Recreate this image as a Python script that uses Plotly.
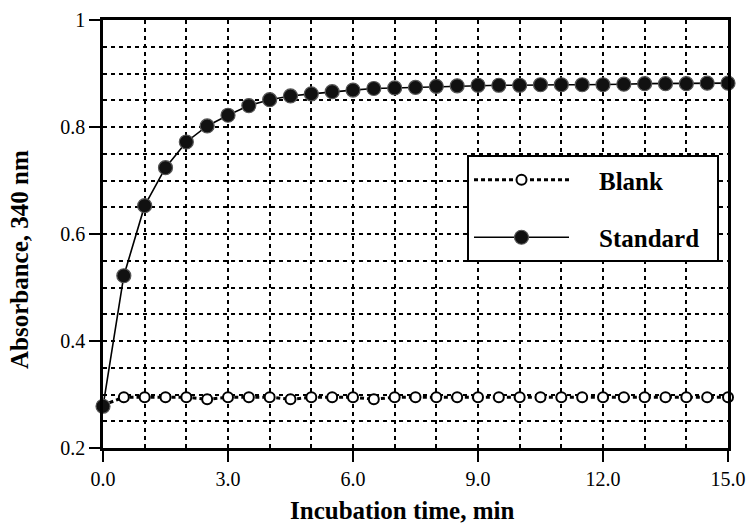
import plotly.graph_objects as go

time_min = [0.0, 0.5, 1.0, 1.5, 2.0, 2.5, 3.0, 3.5, 4.0, 4.5, 5.0, 5.5, 6.0, 6.5, 7.0, 7.5,
            8.0, 8.5, 9.0, 9.5, 10.0, 10.5, 11.0, 11.5, 12.0, 12.5, 13.0, 13.5, 14.0, 14.5, 15.0]
standard = [0.278, 0.522, 0.653, 0.724, 0.772, 0.802, 0.822, 0.840, 0.851, 0.858, 0.862, 0.866,
            0.869, 0.872, 0.873, 0.874, 0.876, 0.877, 0.878, 0.878, 0.878, 0.879, 0.879, 0.879,
            0.879, 0.880, 0.881, 0.881, 0.881, 0.882, 0.882]
blank = [0.280, 0.295, 0.295, 0.295, 0.295, 0.291, 0.295, 0.295, 0.295, 0.291, 0.295, 0.295,
         0.295, 0.291, 0.295, 0.295, 0.295, 0.295, 0.295, 0.295, 0.295, 0.295, 0.295, 0.295,
         0.295, 0.295, 0.295, 0.295, 0.295, 0.295, 0.295]
x_ticks = [0, 3, 6, 9, 12, 15]
x_tick_labels = ["0.0", "3.0", "6.0", "9.0", "12.0", "15.0"]
y_ticks = [0.2, 0.4, 0.6, 0.8, 1.0]
y_tick_labels = ["0.2", "0.4", "0.6", "0.8", "1"]

NB = "\u00a0"
fig = go.Figure()
fig.add_trace(go.Scatter(
    x=time_min, y=blank, name=NB * 4 + "Blank", mode="lines+markers", legendgroup="a",
    line=dict(color="black", width=3, dash="4px,3px"),
    marker=dict(symbol="circle", size=10, color="white", line=dict(color="black", width=2)),
))
fig.add_trace(go.Scatter(
    x=time_min, y=standard, name=NB * 4 + "Standard" + NB * 2, mode="lines+markers", legendgroup="b",
    line=dict(color="black", width=1.6),
    marker=dict(symbol="circle", size=14, color="#111111", line=dict(color="#555555", width=1.2)),
))

serif = "Liberation Serif"
grid = dict(showgrid=True, gridcolor="black", gridwidth=1.5, griddash="4px,4px")
fig.update_layout(
    width=749, height=524,
    margin=dict(l=103, r=21, t=20, b=76),
    plot_bgcolor="white", paper_bgcolor="white",
    font=dict(family=serif, color="black", size=20),
    showlegend=True,
    legend=dict(
        x=(467 - 103) / 625, y=(448 - 155) / 428, xanchor="left", yanchor="top",
        bgcolor="white", bordercolor="black", borderwidth=2,
        font=dict(family=serif, size=25, color="black", weight="bold"),
        itemwidth=95, tracegroupgap=22, traceorder="grouped",
    ),
    xaxis=dict(
        range=[0, 15], tickvals=x_ticks, ticktext=x_tick_labels,
        showline=True, linecolor="black", linewidth=2.5, mirror=True,
        ticks="outside", ticklen=11, tickwidth=2, tickcolor="black",
        **grid,
        minor=dict(dtick=1, **grid),
        zeroline=False, automargin=False,
        tickfont=dict(family=serif, size=20),
    ),
    yaxis=dict(
        range=[0.2, 1.0], tickvals=y_ticks, ticktext=y_tick_labels,
        showline=True, linecolor="black", linewidth=2.5, mirror=True,
        ticks="outside", ticklen=11, tickwidth=2, tickcolor="black",
        **grid,
        minor=dict(dtick=0.05, tick0=0.2, **grid),
        zeroline=False, automargin=False,
        tickfont=dict(family=serif, size=20),
    ),
    annotations=[
        dict(text="<b>Incubation time, min</b>", xref="paper", yref="paper",
             x=(402 - 103) / 625, y=(448 - 510) / 428, xanchor="center", yanchor="middle",
             showarrow=False, font=dict(family=serif, size=25)),
        dict(text="<b>Absorbance, 340 nm</b>", xref="paper", yref="paper",
             x=(19 - 103) / 625, y=(448 - 260) / 428, xanchor="center", yanchor="middle",
             textangle=-90, showarrow=False, font=dict(family=serif, size=25)),
    ],
)
for tr in fig.data:
    tr.cliponaxis = False

fig.write_html(
    "out.html",
    config={"displayModeBar": False},
    post_script="document.body.style.margin='0';document.body.style.overflow='hidden';",
)
